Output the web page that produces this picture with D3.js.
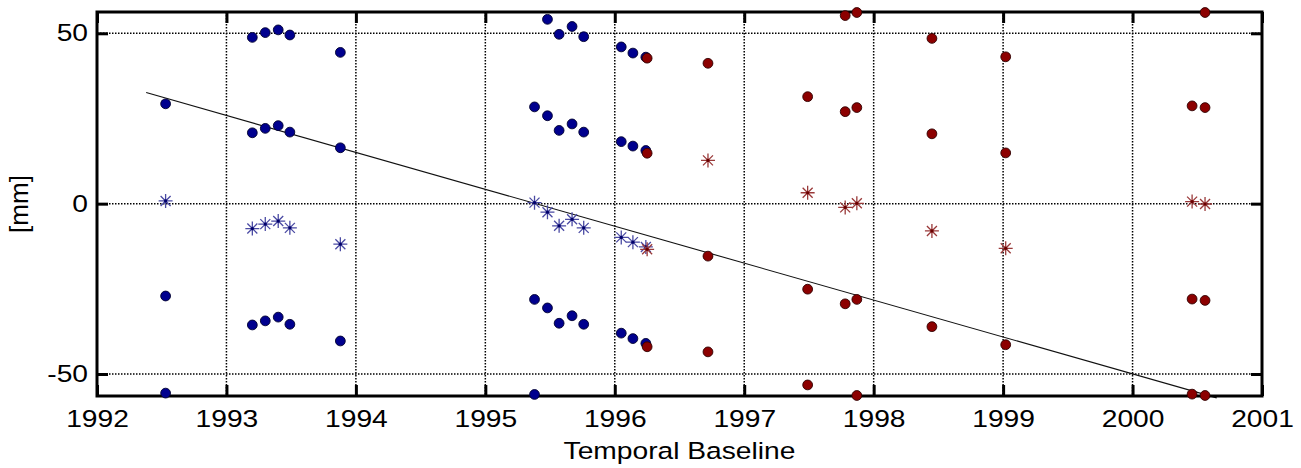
<!DOCTYPE html>
<html>
<head>
<meta charset="utf-8">
<script src="https://cdn.jsdelivr.net/npm/d3@7"></script>
<style>
  html, body { margin: 0; padding: 0; background: #fff; }
  svg { display: block; font-family: "Liberation Sans", Arial, sans-serif; }
</style>
</head>
<body>
<svg id="chart" width="1301" height="468"></svg>
<script>
// ---------- data ----------
const xTicks = [1992, 1993, 1994, 1995, 1996, 1997, 1998, 1999, 2000, 2001];
const yTicks = [-50, 0, 50];
const xLabel = "Temporal Baseline";
const yLabel = "[mm]";

const blueDates = [1992.53, 1993.20, 1993.30, 1993.40, 1993.49, 1993.88,
                   1995.38, 1995.48, 1995.57, 1995.67, 1995.76,
                   1996.05, 1996.14, 1996.24];
const blueStars = [0.8, -7.3, -6.0, -5.1, -7.1, -11.9,
                   0.3, -2.5, -6.5, -4.6, -7.1,
                   -9.9, -11.3, -12.7];
const blueCircles = [
  [29.3, -27.1, -55.6],
  [48.8, 20.8, -35.6],
  [50.2, 22.1, -34.4],
  [51.0, 22.9, -33.3],
  [49.5, 21.0, -35.4],
  [44.4, 16.4, -40.3],
  [28.4, -28.1, -56.0],
  [54.1, 25.8, -30.6],
  [49.7, 21.5, -35.1],
  [52.0, 23.4, -32.9],
  [49.0, 21.0, -35.4],
  [46.0, 18.2, -38.0],
  [44.2, 16.9, -39.6],
  [43.0, 15.6, -41.0]
];

const redDates = [1996.25, 1996.72, 1997.49, 1997.78, 1997.87, 1998.45, 1999.02, 2000.46, 2000.56];
const redStars = [-13.4, 12.7, 3.2, -1.1, 0.1, -8.0, -13.1, 0.6, -0.1];
const redCircles = [
  [42.7, 14.8, -42.0],
  [41.2, -15.4, -43.5],
  [31.4, -25.1, -53.2],
  [55.2, 27.0, -29.4],
  [56.1, 28.2, -28.1, -56.3],
  [48.5, 20.5, -36.1],
  [43.1, 14.9, -41.4],
  [28.7, -28.0, -55.9],
  [56.1, 28.2, -28.4, -56.3]
];

const fitLine = [[1992.38, 32.6], [2000.65, -57.0]];

// ---------- layout ----------
const mLeft = 97, mRight = 1262, mTop = 12, mBottom = 396;
const xDomain = [1992, 2001];
const yDomain = [-56.45, 56.25];

const svg = d3.select("#chart");
const x = d3.scaleLinear().domain(xDomain).range([mLeft, mRight]);
const y = d3.scaleLinear().domain(yDomain).range([mBottom, mTop]);

const inY = v => v >= yDomain[0] && v <= yDomain[1];
const plainFmt = d => String(d);   // hyphen-minus like the reference

// ---------- grid ----------
const grid = svg.append("g").attr("stroke", "#000").attr("stroke-width", 1.5)
  .attr("stroke-dasharray", "1.5,1.5");
grid.selectAll("line.v").data(xTicks.slice(1, -1)).join("line").attr("class", "v")
  .attr("x1", d => x(d)).attr("x2", d => x(d))
  .attr("y1", mTop).attr("y2", mBottom);
grid.selectAll("line.h").data(yTicks).join("line").attr("class", "h")
  .attr("x1", mLeft).attr("x2", mRight)
  .attr("y1", d => y(d)).attr("y2", d => y(d));

// ---------- regression line ----------
svg.append("path")
  .datum(fitLine)
  .attr("fill", "none").attr("stroke", "#111").attr("stroke-width", 1.1)
  .attr("d", d3.line().x(d => x(d[0])).y(d => y(d[1])));

// ---------- axes & frame ----------
const tickLen = 11;
const styleAxis = g => {
  g.select(".domain").remove();
  g.selectAll(".tick line").attr("stroke", "#000").attr("stroke-width", 3)
    .attr("stroke-dasharray", null);
};
svg.append("g").attr("transform", `translate(0,${mBottom})`)
  .call(d3.axisBottom(x).tickValues(xTicks).tickFormat(plainFmt)
        .tickSizeInner(-tickLen).tickSizeOuter(0).tickPadding(14))
  .call(styleAxis)
  .call(g => g.selectAll(".tick text")
     .attr("font-size", 23.5).attr("fill", "#000")
     .attr("font-family", "Liberation Sans, Arial, sans-serif")
     .attr("transform", "scale(1.2,1)"));
svg.append("g").attr("transform", `translate(0,${mTop})`)
  .call(d3.axisTop(x).tickValues(xTicks).tickFormat("")
        .tickSizeInner(-tickLen).tickSizeOuter(0))
  .call(styleAxis);
svg.append("g").attr("transform", `translate(${mLeft},0)`)
  .call(d3.axisLeft(y).tickValues(yTicks).tickFormat(plainFmt)
        .tickSizeInner(-tickLen).tickSizeOuter(0).tickPadding(0))
  .call(styleAxis)
  .call(g => g.selectAll(".tick text")
     .attr("font-size", 23.5).attr("fill", "#000")
     .attr("font-family", "Liberation Sans, Arial, sans-serif")
     .attr("x", 0)
     .attr("transform", "translate(-9,0) scale(1.2,1)"));
svg.append("g").attr("transform", `translate(${mRight},0)`)
  .call(d3.axisRight(y).tickValues(yTicks).tickFormat("")
        .tickSizeInner(-tickLen).tickSizeOuter(0))
  .call(styleAxis);

svg.append("rect")
  .attr("x", mLeft).attr("y", mTop)
  .attr("width", mRight - mLeft).attr("height", mBottom - mTop)
  .attr("fill", "none").attr("stroke", "#000").attr("stroke-width", 3);

// ---------- markers ----------
const starPath = "M-7,0H7M0,-7V7M-5,-5L5,5M-5,5L5,-5";

function drawSeries(dates, stars, circles, fill, edge, starColor, starCore) {
  const g = svg.append("g");
  const circ = [];
  dates.forEach((d, i) => circles[i].forEach(v => { if (inY(v)) circ.push([d, v]); }));
  g.selectAll("circle.pt").data(circ).join("circle").attr("class", "pt")
    .attr("cx", d => x(d[0])).attr("cy", d => y(d[1]))
    .attr("r", 4.9).attr("fill", fill).attr("stroke", edge).attr("stroke-width", 0.9);
  const st = dates.map((d, i) => [d, stars[i]]).filter(d => inY(d[1]));
  const sg = g.selectAll("g.star").data(st).join("g").attr("class", "star")
    .attr("transform", d => `translate(${x(d[0])},${y(d[1])})`);
  sg.append("path").attr("d", starPath).attr("stroke", starColor)
    .attr("stroke-width", 1.3).attr("fill", "none");
  sg.append("circle").attr("r", 1.6).attr("fill", starCore);
}

drawSeries(blueDates, blueStars, blueCircles, "#00008e", "#000030", "#4a4aa3", "#00006a");
drawSeries(redDates, redStars, redCircles, "#8c0000", "#300000", "#9a3a3a", "#6a0000");

// ---------- axis titles ----------
svg.append("text")
  .attr("transform", `translate(${(mLeft + mRight) / 2},459) scale(1.2,1)`)
  .attr("text-anchor", "middle").attr("font-size", 23.5).attr("fill", "#000")
  .text(xLabel);
svg.append("text")
  .attr("transform", `translate(28,204) rotate(-90)`)
  .attr("text-anchor", "middle").attr("font-size", 26).attr("fill", "#000")
  .text(yLabel);
</script>
</body>
</html>
